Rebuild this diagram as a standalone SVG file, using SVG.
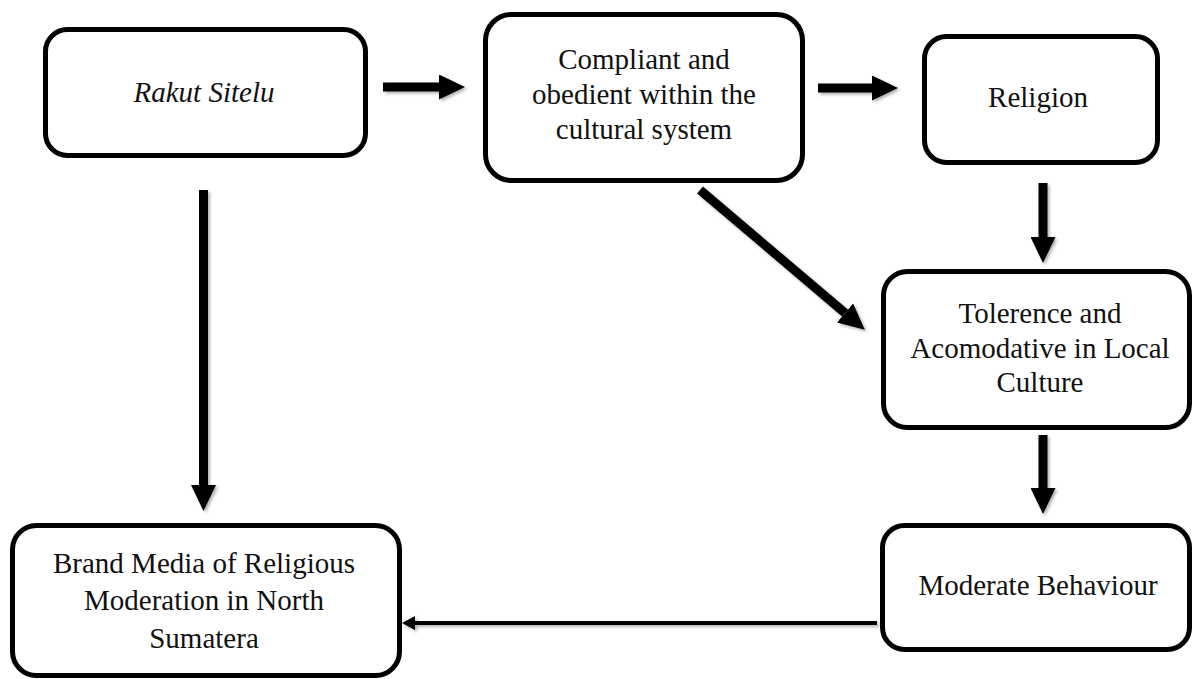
<svg xmlns="http://www.w3.org/2000/svg" width="1195" height="679" viewBox="0 0 1195 679">
  <style>
    .box { fill: #ffffff; stroke: #000000; stroke-width: 5; }
    .lbl { font-family: "Liberation Serif", "DejaVu Serif", serif; font-size: 29px; fill: #111111; text-anchor: middle; }
    .it { font-style: italic; }
    .thick { stroke: #000000; stroke-width: 9; fill: none; }
    .thin { stroke: #000000; stroke-width: 4; fill: none; }
  </style>
  <defs>
    <filter id="sh" x="-20%" y="-20%" width="140%" height="140%">
      <feDropShadow dx="2" dy="2" stdDeviation="1.5" flood-color="#000000" flood-opacity="0.3"/>
    </filter>
    <marker id="big" markerUnits="userSpaceOnUse" markerWidth="26" markerHeight="25" refX="0" refY="12.5" orient="auto">
      <path d="M0,0 L26,12.5 L0,25 z" fill="#000000"/>
    </marker>
    <marker id="small" markerUnits="userSpaceOnUse" markerWidth="13" markerHeight="14" refX="0" refY="7" orient="auto">
      <path d="M0,0 L13,7 L0,14 z" fill="#000000"/>
    </marker>
  </defs>

  <g id="connectors" filter="url(#sh)">
    <line class="thick" x1="383" y1="87" x2="439" y2="87" marker-end="url(#big)"/>
    <line class="thick" x1="818" y1="88" x2="872" y2="88" marker-end="url(#big)"/>
    <line class="thick" x1="1043" y1="183" x2="1043" y2="237" marker-end="url(#big)"/>
    <line class="thick" x1="1043" y1="435" x2="1043" y2="488" marker-end="url(#big)"/>
    <line class="thick" x1="203.5" y1="190" x2="203.5" y2="485" marker-end="url(#big)"/>
    <line class="thick" x1="700" y1="190" x2="845" y2="313" marker-end="url(#big)"/>
    <line class="thin" x1="877" y1="623" x2="415" y2="623" marker-end="url(#small)"/>
  </g>

  <g id="node-rakut">
    <rect class="box" x="45.5" y="29.5" width="320" height="126" rx="22"/>
    <text class="lbl it" x="204" y="102">Rakut Sitelu</text>
  </g>

  <g id="node-compliant">
    <rect class="box" x="485.5" y="14.5" width="317" height="166" rx="26"/>
    <text class="lbl" x="644" y="69">Compliant and</text>
    <text class="lbl" x="644" y="104">obedient within the</text>
    <text class="lbl" x="644" y="139">cultural system</text>
  </g>

  <g id="node-religion">
    <rect class="box" x="924.5" y="36.5" width="233" height="126" rx="22"/>
    <text class="lbl" x="1038" y="107">Religion</text>
  </g>

  <g id="node-tolerence">
    <rect class="box" x="883.5" y="271.5" width="306" height="156" rx="24"/>
    <text class="lbl" x="1040" y="323">Tolerence and</text>
    <text class="lbl" x="1040" y="358">Acomodative in Local</text>
    <text class="lbl" x="1040" y="392">Culture</text>
  </g>

  <g id="node-moderate">
    <rect class="box" x="882.5" y="525.5" width="307" height="124" rx="22"/>
    <text class="lbl" x="1038" y="595">Moderate Behaviour</text>
  </g>

  <g id="node-brand">
    <rect class="box" x="12.5" y="525.5" width="387" height="150" rx="24"/>
    <text class="lbl" x="204" y="573">Brand Media of Religious</text>
    <text class="lbl" x="204" y="610">Moderation in North</text>
    <text class="lbl" x="204" y="648">Sumatera</text>
  </g>
</svg>
